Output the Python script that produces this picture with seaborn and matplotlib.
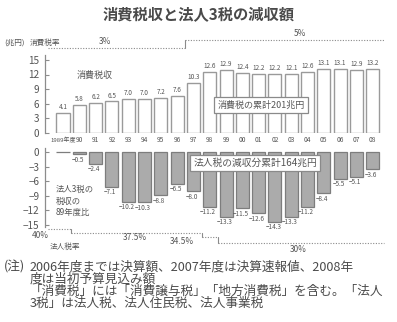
import matplotlib
matplotlib.use("Agg")
import matplotlib.pyplot as plt
import matplotlib.transforms as mtransforms
from matplotlib.lines import Line2D
import seaborn as sns
import pandas as pd

# ---- data -------------------------------------------------------------
year_labels = ["1989年度", "90", "91", "92", "93", "94", "95", "96", "97", "98",
               "99", "00", "01", "02", "03", "04", "05", "06", "07", "08"]
consumption_tax = [4.1, 5.8, 6.2, 6.5, 7.0, 7.0, 7.2, 7.6, 10.3, 12.6,
                   12.9, 12.4, 12.2, 12.2, 12.1, 12.6, 13.1, 13.1, 12.9, 13.2]
corporate_drop = [0.0, -0.5, -2.4, -7.1, -10.2, -10.3, -8.8, -6.5, -8.0, -11.2,
                  -13.3, -11.5, -12.6, -14.3, -13.3, -11.2, -8.4, -5.5, -5.1, -3.6]
consumption_rate = [3] * 8 + [5] * 12
corporate_rate = [40] + [37.5] * 8 + [34.5] + [30] * 10
top_ticks = [0, 3, 6, 9, 12, 15]
bottom_ticks = [0, -3, -6, -9, -12, -15]

# ---- style ------------------------------------------------------------
sns.set_theme(style="white")
FONT = ["Noto Sans CJK JP", "DejaVu Sans"]
plt.rcParams["font.family"] = FONT
plt.rcParams["axes.unicode_minus"] = True

TXT = "#555555"
EDGE = "#8c8c8c"
W, H = 397, 322


def fx(x):
    return x / W


def fy(y):
    return 1 - y / H


fig = plt.figure(figsize=(W / 100, H / 100), dpi=100)
fig.patch.set_facecolor("white")

XLIM = (-1.104, 19.75)
ax1 = fig.add_axes([fx(45), fy(133), 340 / W, (133 - 55) / H])
ax2 = fig.add_axes([fx(45), fy(227), 340 / W, (227 - 148) / H])

df_top = pd.DataFrame({"year": year_labels, "value": consumption_tax})
df_bot = pd.DataFrame({"year": year_labels, "value": corporate_drop})

sns.barplot(data=df_top, x="year", y="value", order=year_labels, color="white",
            edgecolor="#9a9a9a", linewidth=1.0, width=0.8, saturation=1, ax=ax1)
sns.barplot(data=df_bot, x="year", y="value", order=year_labels, color="#ababab",
            edgecolor="#7d7d7d", linewidth=0.9, width=0.8, saturation=1, ax=ax2)

for ax, lim, ticks in ((ax1, (0, 16), top_ticks), (ax2, (-15.4, 0.8), bottom_ticks)):
    ax.set_xlim(*XLIM)
    ax.set_ylim(*lim)
    ax.set_yticks(ticks)
    ax.set_yticklabels([str(t).replace("-", "\u2212") for t in ticks])
    ax.set_xticks([])
    ax.set_xlabel("")
    ax.set_ylabel("")
    ax.set_facecolor("none")
    for s in ("top", "right", "bottom"):
        ax.spines[s].set_visible(False)
    ax.spines["left"].set_color(EDGE)
    ax.spines["left"].set_linewidth(0.9)
    ax.tick_params(axis="y", direction="in", length=3, width=0.8, color=EDGE,
                   labelsize=7.2, labelcolor=TXT, pad=4, left=True)

# value labels
for i, v in enumerate(consumption_tax):
    ax1.text(i, v + 0.35, f"{v:.1f}", ha="center", va="bottom", fontsize=4.6, color=TXT)
for i, v in enumerate(corporate_drop):
    if v != 0:
        ax2.text(i - 0.1, v - 0.35, f"{v:.1f}".replace("-", "\u2212"), ha="center",
                 va="top", fontsize=4.6, color=TXT)

# fiscal year labels between the two panels
xfig = mtransforms.blended_transform_factory(ax1.transData, fig.transFigure)
for i, lab in enumerate(year_labels):
    fig.text(i, fy(140.5), lab, transform=xfig, ha="center", va="center",
             fontsize=4.8 if i else 4.3, color=TXT)


# tax rate step lines (dotted runs, solid risers)
def rate_line(rates, ypos, color="#8a8a8a"):
    start = 0
    for i in range(1, len(rates) + 1):
        if i == len(rates) or rates[i] != rates[start]:
            x0 = start - 0.5 if start else start - 0.9
            x1 = i - 0.5 if i < len(rates) else i - 0.3
            y = fy(ypos(rates[start]))
            fig.add_artist(Line2D([x0, x1], [y, y], transform=xfig, color=color,
                                  lw=0.8, ls=(0, (1, 1.4))))
            if i < len(rates):
                fig.add_artist(Line2D([x1, x1], [y, fy(ypos(rates[i]))], transform=xfig,
                                      color=color, lw=0.8))
            start = i


rate_line(consumption_rate, lambda r: 48 - (r - 3) * 4)
rate_line(corporate_rate, lambda r: 229 + (40 - r) * 1.4)

# headings and annotations
fig.text(0.5, fy(14), "消費税収と法人3税の減収額", ha="center", va="center",
         fontsize=11, fontweight="bold", color="#4a4a4a")
fig.text(fx(4), fy(43), "(兆円)", ha="left", va="center", fontsize=5.5, color=TXT)
fig.text(fx(30), fy(43), "消費税率", ha="left", va="center", fontsize=5.5, color=TXT)
fig.text(fx(105), fy(42), "3%", ha="center", va="center", fontsize=6, color=TXT)
fig.text(fx(300), fy(33), "5%", ha="center", va="center", fontsize=6, color=TXT)

fig.text(fx(77), fy(75), "消費税収", ha="left", va="center", fontsize=6.5, color=TXT)
fig.text(fx(261), fy(105), "消費税の累計201兆円", ha="center", va="center",
         fontsize=6.5, color=TXT,
         bbox=dict(boxstyle="square,pad=0.35", fc="white", ec="#8a8a8a", lw=0.9))
fig.text(fx(255), fy(163), "法人税の減収分累計164兆円", ha="center", va="center",
         fontsize=7, color=TXT,
         bbox=dict(boxstyle="square,pad=0.3", fc="white", ec="#8a8a8a", lw=0.9))
fig.text(fx(56), fy(201), "法人3税の\n税収の\n89年度比", ha="left", va="center",
         fontsize=6, color=TXT, linespacing=1.35)

fig.text(fx(40), fy(236), "40%", ha="center", va="center", fontsize=6, color=TXT)
fig.text(fx(135), fy(237), "37.5%", ha="center", va="center", fontsize=6, color=TXT)
fig.text(fx(182), fy(241), "34.5%", ha="center", va="center", fontsize=6, color=TXT)
fig.text(fx(298), fy(250), "30%", ha="center", va="center", fontsize=6, color=TXT)
fig.text(fx(50), fy(247), "法人税率", ha="left", va="center", fontsize=5.5, color=TXT)

# footnotes
NOTE = dict(ha="left", va="center", fontsize=9.1, color="#4a4a4a")
fig.text(fx(4), fy(267), "(注)", **NOTE)
fig.text(fx(30), fy(267), "2006年度までは決算額、2007年度は決算速報値、2008年", **NOTE)
fig.text(fx(30), fy(279), "度は当初予算見込み額", **NOTE)
fig.text(fx(30), fy(291), "「消費税」には「消費譲与税」「地方消費税」を含む。「法人", **NOTE)
fig.text(fx(30), fy(303), "3税」は法人税、法人住民税、法人事業税", **NOTE)

fig.savefig("out.png", dpi=100, facecolor="white")
